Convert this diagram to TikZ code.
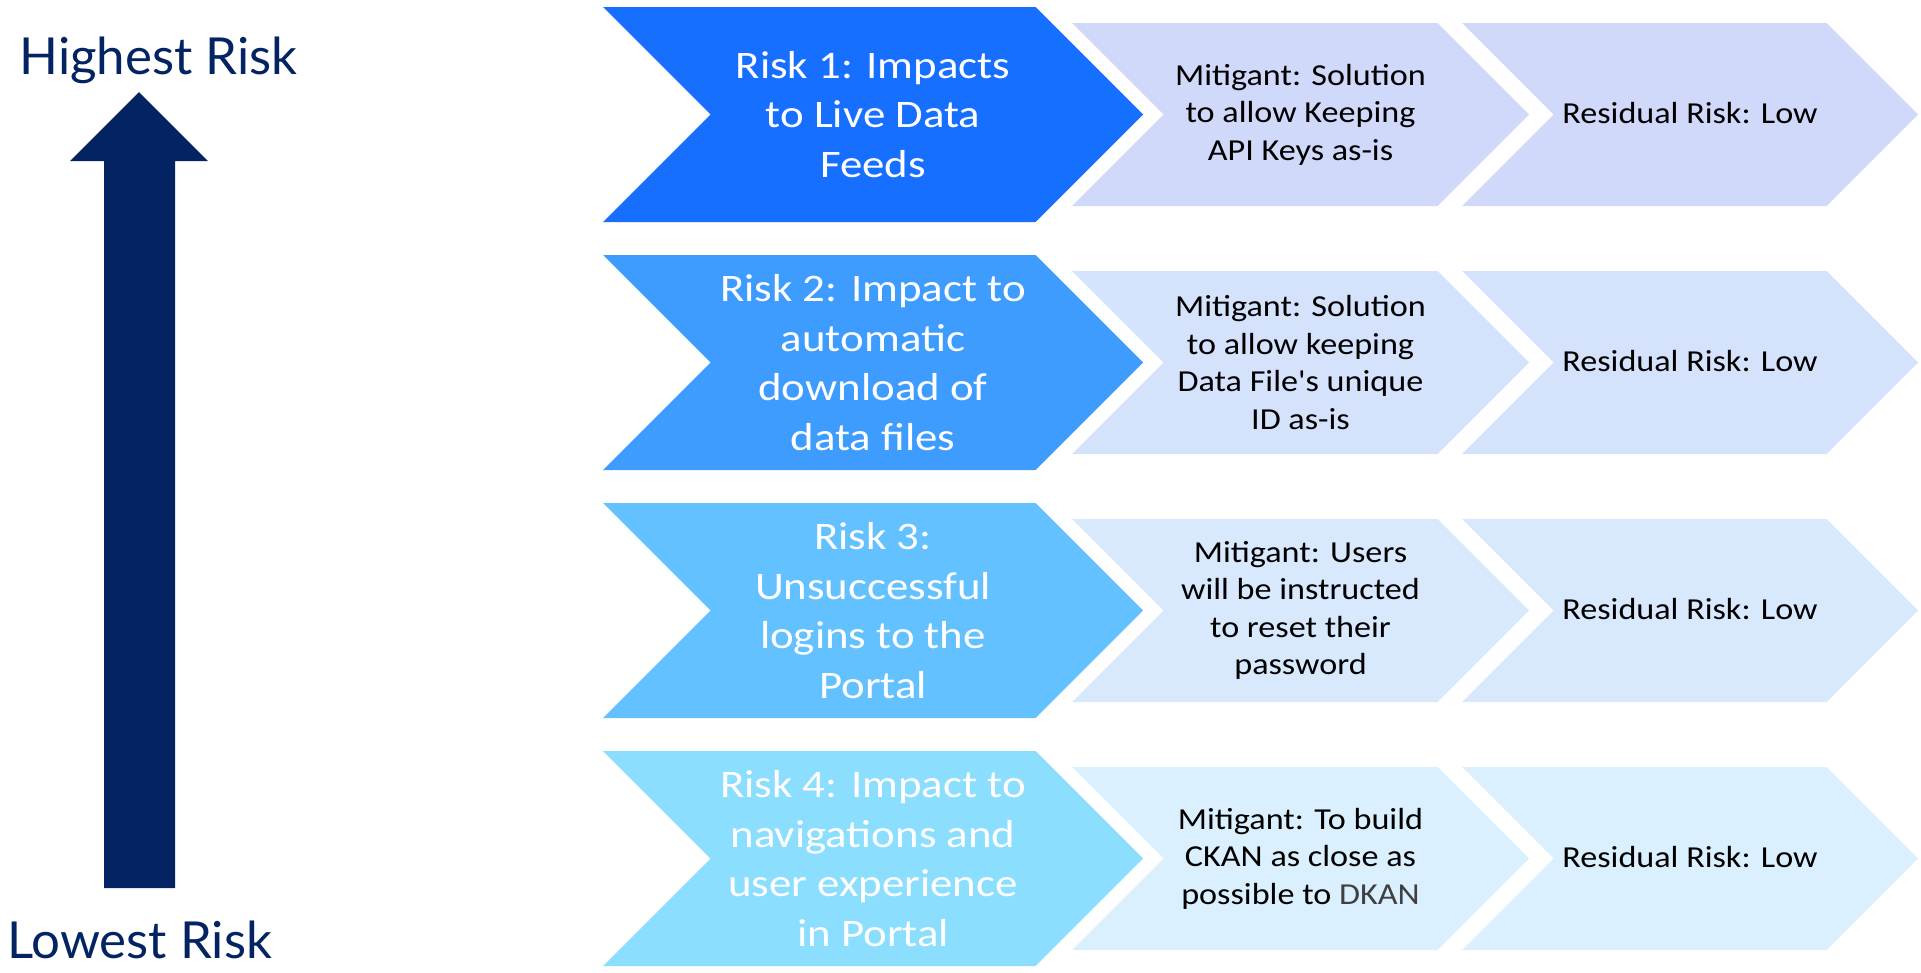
\documentclass[tikz,border=0pt]{standalone}
\usepackage{fontspec}
\setmainfont{Carlito}
\newfontfamily\labfont{Lato}
\newfontfamily\riskfont[FakeStretch=1.15]{Carlito}
\newfontfamily\mitfont[FakeStretch=1.12,Ligatures=TeXOff]{Carlito}
\definecolor{navy}{HTML}{032363}
\definecolor{bigA}{HTML}{176FFF}
\definecolor{bigB}{HTML}{3E9CFF}
\definecolor{bigC}{HTML}{63C1FF}
\definecolor{bigD}{HTML}{8CDEFF}
\definecolor{litA}{HTML}{D0D9FA}
\definecolor{litB}{HTML}{D5E2FC}
\definecolor{litC}{HTML}{D8E8FD}
\definecolor{litD}{HTML}{DBF0FE}
\definecolor{dkan}{HTML}{404040}
\newcommand\mychev[5]{% x0, top, w, h, color
  \fill[#5] (#1,#2) -- ({#1+#3-#4/2},#2) -- ({#1+#3},{#2+#4/2}) -- ({#1+#3-#4/2},{#2+#4}) -- (#1,{#2+#4}) -- ({#1+#4/2},{#2+#4/2}) -- cycle;}
\begin{document}
\begin{tikzpicture}[x=1pt,y=-1pt,
  risktext/.style={text=white, align=center, inner sep=0pt, font=\riskfont\fontsize{39}{49.5}\selectfont},
  mittext/.style={text=black, align=center, inner sep=0pt, font=\mitfont\fontsize{30.5}{37.5}\selectfont},
  sidetext/.style={text=navy, anchor=base, inner sep=0pt, font=\labfont\fontsize{51}{60}\selectfont}]
\useasboundingbox (0,0) rectangle (1921,972);
% risk arrow
\fill[navy] (139,92) -- (208,161) -- (175,161) -- (175,888) -- (104,888) -- (104,161) -- (70,161) -- cycle;
\node[sidetext] (hi) at (158.5,74) {Highest Risk};
\node[sidetext] (lo) at (139.5,958) {Lowest Risk};
% row 1
\mychev{603}{7}{540}{215}{bigA}
\mychev{1072}{23}{457}{183}{litA}
\mychev{1462}{23}{456}{183}{litA}
\node[risktext] (r1) at (873,114.5) {Risk 1: Impacts\\to Live Data\\Feeds};
\node[mittext] (m1) at (1300.5,114.5) {Mitigant: Solution\\to allow Keeping\\API Keys as-is};
\node[mittext] (s1) at (1690,113) {Residual Risk: Low};
% row 2
\mychev{603}{255}{540}{215}{bigB}
\mychev{1072}{271}{457}{183}{litB}
\mychev{1462}{271}{456}{183}{litB}
\node[risktext] (r2) at (873,362.5) {Risk 2: Impact to\\automatic\\download of\\data files};
\node[mittext] (m2) at (1300.5,362.5) {Mitigant: Solution\\to allow keeping\\Data File's unique\\ID as-is};
\node[mittext] (s2) at (1690,361) {Residual Risk: Low};
% row 3
\mychev{603}{503}{540}{215}{bigC}
\mychev{1072}{519}{457}{183}{litC}
\mychev{1462}{519}{456}{183}{litC}
\node[risktext] (r3) at (873,610.5) {Risk 3:\\Unsuccessful\\logins to the\\Portal};
\node[mittext] (m3) at (1300.5,610.5) {Mitigant: Users\\will be instructed\\to reset their\\password};
\node[mittext] (s3) at (1690,609) {Residual Risk: Low};
% row 4
\mychev{603}{751}{540}{215}{bigD}
\mychev{1072}{767}{457}{183}{litD}
\mychev{1462}{767}{456}{183}{litD}
\node[risktext] (r4) at (873,858.5) {Risk 4: Impact to\\navigations and\\user experience\\in Portal};
\node[mittext] (m4) at (1300.5,858.5) {Mitigant: To build\\CKAN as close as\\possible to \textcolor{dkan}{DKAN}};
\node[mittext] (s4) at (1690,857) {Residual Risk: Low};
\end{tikzpicture}
\end{document}
